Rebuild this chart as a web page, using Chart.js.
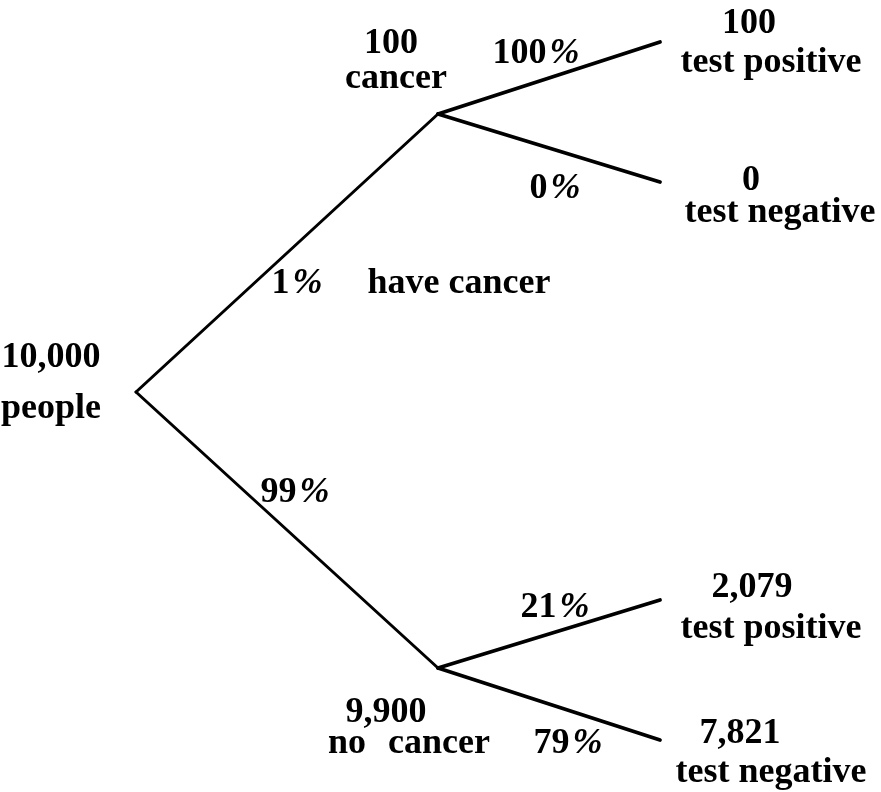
<!DOCTYPE html>
<html>
<head>
<meta charset="utf-8">
<script src="https://cdn.jsdelivr.net/npm/chart.js@4/dist/chart.umd.min.js"></script>
<style>
  html, body { margin: 0; padding: 0; background: #ffffff; }
  #wrap { width: 881px; height: 792px; position: relative; }
</style>
</head>
<body>
<div id="wrap"><canvas id="treeChart"></canvas></div>
<script>
// data
const population = 10000;
const groupNames = ['cancer', 'no cancer'];
const groupCounts = [100, 9900];
const groupShares = [1, 99];
const testNames = ['test positive', 'test negative'];
const testCounts = [[100, 0], [2079, 7821]];
const testShares = [[100, 0], [21, 79]];

// layout of the tree (scale units = pixels of the reference)
const rootNode = { x: 136, y: 392 };
const groupNodes = [{ x: 438, y: 114 }, { x: 438, y: 668 }];
const leafNodes = [
    [{ x: 660, y: 42 }, { x: 660, y: 182 }],
    [{ x: 660, y: 600 }, { x: 660, y: 740 }]
];

const fmt = n => Number(n).toLocaleString('en-US');
const pct = n => n + '%';

// text labels: [text, centre x, baseline y]
const labels = [
    [fmt(population), 51, 367],
    ['people', 51, 418],
    [fmt(groupCounts[0]), 391, 53],
    [groupNames[0], 396, 88],
    [pct(groupShares[0]), 297, 293],
    ['have ' + groupNames[0], 459, 293],
    [pct(groupShares[1]), 295, 502],
    [fmt(groupCounts[1]), 386, 722],
    ['no', 347, 753],
    ['cancer', 439, 753],
    [pct(testShares[0][0]), 536, 63],
    [pct(testShares[0][1]), 555, 198],
    [pct(testShares[1][0]), 555, 617],
    [pct(testShares[1][1]), 568, 753],
    [fmt(testCounts[0][0]), 749, 33],
    [testNames[0], 771, 72],
    [fmt(testCounts[0][1]), 751, 190],
    [testNames[1], 780, 222],
    [fmt(testCounts[1][0]), 752, 597],
    [testNames[0], 771, 638],
    [fmt(testCounts[1][1]), 740, 743],
    [testNames[1], 771, 782]
];

function edge(from, to, width) {
    return {
        data: [from, to],
        borderColor: '#000000',
        borderWidth: width,
        borderCapStyle: 'round',
        pointRadius: 0,
        showLine: true,
        fill: false,
        tension: 0,
        clip: false
    };
}

const datasets = [];
groupNodes.forEach((g, i) => {
    datasets.push(edge(rootNode, g, 3));
    datasets.push(edge(g, leafNodes[i][0], 3.8));
    datasets.push(edge(g, leafNodes[i][1], 3.8));
});

const FONT = '"Liberation Serif", "Times New Roman", serif';

const treeLabels = {
    id: 'treeLabels',
    afterDatasetsDraw(chart) {
        const { ctx, scales: { x, y } } = chart;
        ctx.save();
        ctx.fillStyle = '#000000';
        ctx.textBaseline = 'alphabetic';
        ctx.textAlign = 'left';
        labels.forEach(([txt, lx, ly]) => {
            const px = x.getPixelForValue(lx);
            const py = y.getPixelForValue(ly);
            if (txt.endsWith('%')) {
                // the percent sign in the original is a slanted glyph
                const num = txt.slice(0, -1);
                ctx.font = 'bold 36px ' + FONT;
                const wNum = ctx.measureText(num).width;
                ctx.font = 'italic bold 36px ' + FONT;
                const wPct = ctx.measureText('%').width;
                const gap = 3;
                const left = px - (wNum + gap + wPct) / 2;
                ctx.font = 'bold 36px ' + FONT;
                ctx.fillText(num, left, py);
                ctx.font = 'italic bold 36px ' + FONT;
                ctx.fillText('%', left + wNum + gap, py);
            } else {
                ctx.font = 'bold 36px ' + FONT;
                const w = ctx.measureText(txt).width;
                ctx.fillText(txt, px - w / 2, py);
            }
        });
        ctx.restore();
    }
};

new Chart(document.getElementById('treeChart'), {
    type: 'scatter',
    data: { datasets: datasets },
    options: {
        responsive: true,
        maintainAspectRatio: false,
        animation: false,
        layout: { padding: 0 },
        plugins: {
            legend: { display: false },
            tooltip: { enabled: false }
        },
        scales: {
            x: { type: 'linear', min: 0, max: 881, display: false },
            y: { type: 'linear', min: 0, max: 792, reverse: true, display: false }
        }
    },
    plugins: [treeLabels]
});
</script>
</body>
</html>
